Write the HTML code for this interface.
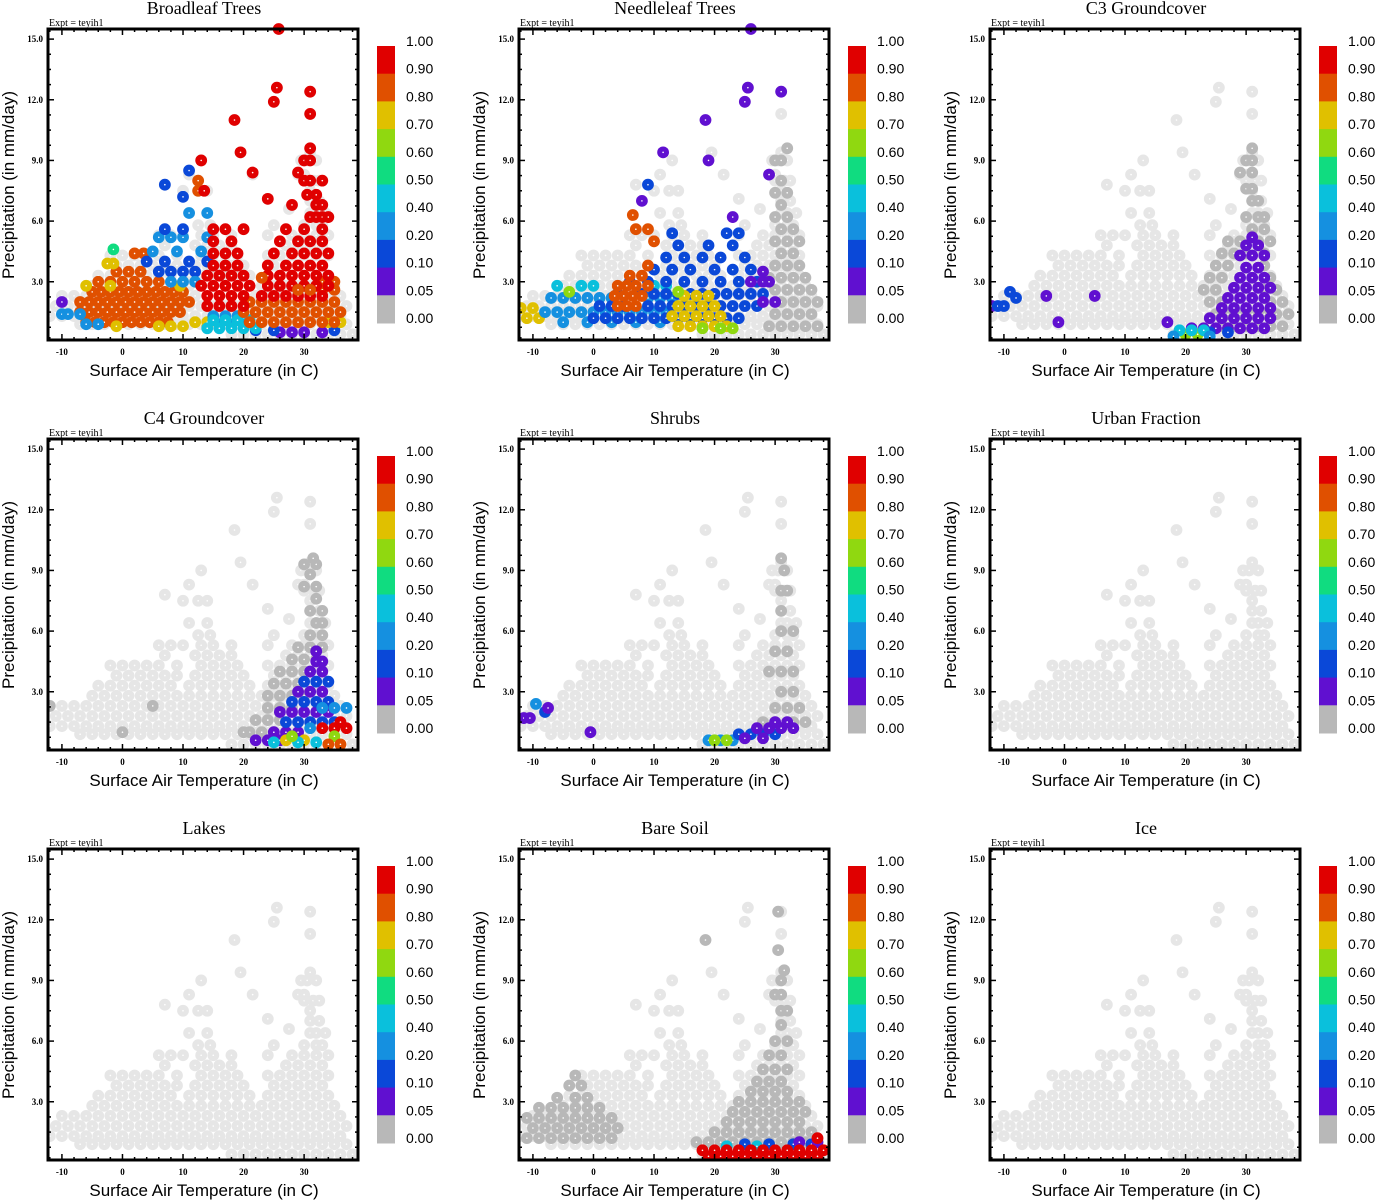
<!DOCTYPE html>
<html><head><meta charset="utf-8">
<style>
html,body{margin:0;padding:0;background:#fff;}
svg{display:block;}
</style></head>
<body>
<svg id="chart" width="1375" height="1200" viewBox="0 0 1375 1200" xmlns="http://www.w3.org/2000/svg"></svg>
<script>
// ---- data ----
const panelTitles = ["Broadleaf Trees","Needleleaf Trees","C3 Groundcover","C4 Groundcover","Shrubs","Urban Fraction","Lakes","Bare Soil","Ice"];
const colorbarLabels = ["1.00","0.90","0.80","0.70","0.60","0.50","0.40","0.20","0.10","0.05","0.00"];
const binEdges = [0.05,0.1,0.2,0.4,0.5,0.6,0.7,0.8,0.9];
const binColors = ["#b8b8b8","#6010d0","#0a48d8","#1590e0","#0ac0dc","#10dc80","#90d810","#e0c000","#e05000","#e00000"];
const xTicks = [-10,0,10,20,30];
const yTicks = [3,6,9,12,15];
// base cloud rows: [precip, temp...]
const baseRows = [
[0.4,18,20,22,24,26,28,30,32,34,36,38],
[0.9,-7,-5,-3,-1,1,3,5,7,9,11,13,15,17,19,21,23,25,27,29,31,33,35,37],
[1.3,-12,-10,-8,-6,-4,-2,0,2,4,6,8,10,12,14,16,18,20,22,24,26,28,30,32,34,36],
[1.8,-11,-9,-7,-5,-3,-1,1,3,5,7,9,11,13,15,17,19,21,23,25,27,29,31,33,35,37],
[2.3,-10,-8,-6,-4,-2,0,2,4,6,8,10,12,14,16,18,20,22,24,26,28,30,32,34,36],
[2.8,-5,-3,-1,1,3,5,7,9,11,13,15,17,19,21,23,25,27,29,31,33,35],
[3.3,-4,-2,0,2,4,6,8,11,13,15,17,19,21,24,26,28,30,32,34],
[3.8,-1,1,3,5,7,9,12,14,16,18,20,25,27,29,31,33],
[4.3,-2,0,2,4,6,9,13,15,17,19,24,26,28,30,32,34],
[4.8,7,12,14,16,18,27,29,31,33],
[5.3,6,8,10,13,15,18,24,28,30,32,34],
[5.8,12.5,14.5,25,30,32,33],
[6.4,11,14,31,32,33.5],
[7.0,31,32.5],[7.5,10,12.5,14,31],[8.0,30,31.5,32.5],[8.3,11,21.5,29,30],
[9.0,13,29.5,30.5,32],[9.4,19.5,31],[11.0,18.5],[11.3,31],[11.9,25],[12.6,25.5],[12.4,31],[7.8,7],[7.1,24],[6.6,27.5]
];
// colored rows: [precip, fraction, temp...]
const broadleafRows = [
[0.5,0.07,26,28,30,33],[0.6,0.15,22,25,35],
[1.0,0.85,-6,-4.5,-3,-1.5,0,1.5,3,4.5,6,7.5],
[1.5,0.85,-7,-5.5,-4,-2.5,-1,0.5,2,3.5,5,6.5,8,9.5],
[2.0,0.85,-7,-5.5,-4,-2.5,-1,0.5,2,3.5,5,6.5,8,9.5,11],
[2.5,0.85,-5,-3.5,-2,-0.5,1,2.5,4,5.5,7,8.5,10],
[3.0,0.85,-4,-2,0,2,4,6],[3.5,0.85,-1,1,3],[4.4,0.85,2,3.5],
[2.8,0.75,-6,-2,9.5],[0.8,0.75,-1,6,8,10,14],[3.9,0.75,-1.5,-2.5],[1.0,0.75,12,14,34,36],
[1.4,0.3,-10,-9,-7],[0.9,0.3,-6,-4],[1.3,0.3,15,17,19],[0.9,0.3,16,18,20],
[0.7,0.45,14,16,18,20,22],[1.1,0.45,15,17,19,21],[4.6,0.55,-1.5],
[3.5,0.15,6,8,10,12],[4.0,0.15,4,7,11,14],[4.5,0.3,5,9,13],[5.2,0.3,6,8,10,14],[5.6,0.15,7,10],[6.4,0.3,11,14],[7.2,0.15,10],[7.8,0.15,7],[8.5,0.15,11],[3.0,0.3,8,10,12],[2.0,0.07,-10],
[1.0,0.85,21,23,25,27,29,31,33,35],[1.5,0.85,20,22,24,26,28,30,32,34,36],[2.0,0.85,21,23,25,27,29,31,33,35],[2.6,0.85,31,33,35],[3.0,0.85,33,35],
[1.8,0.95,14,16,18,20],[2.3,0.95,14,16,18,20,23,25,27,29,31,33],[2.8,0.95,13,15,17,19,21,24,26,28,30,32,34],
[3.3,0.95,14,16,18,20,24,26,28,30,32,34],[3.8,0.95,15,17,19,24,27,29,31,33],[4.4,0.95,15,17,19,25,28,30,32,34],
[5.0,0.95,15,18,26,29,31,33],[5.6,0.95,15,17,20,27,30,33],[6.2,0.95,31,32,33,34],[6.8,0.95,28,32,33],[7.3,0.95,30.5,32],
[8.0,0.95,30,31,33],[8.4,0.95,21.5,29],[9.0,0.95,13,30,31],[9.6,0.95,31],[11.0,0.95,18.5],[11.9,0.95,25],[12.6,0.95,25.5],
[12.4,0.95,31],[11.3,0.95,31],[9.4,0.95,19.5],[7.1,0.95,24],[15.5,0.95,25.8],[7.5,0.85,12.5],[8.0,0.85,12.5],[7.5,0.95,13.5],
[2.6,0.85,29,31],[3.2,0.85,23]
];
const needleleafRows = [
[0.8,0,29,31,33,35,37],[1.4,0,30,32,34,36],[2.0,0,31,33,35,37],[2.6,0,30,32,34,36],[3.2,0,29,31,33,35],[3.8,0,30,32,34],
[4.4,0,31,33],[5.0,0,30,32,34],[5.6,0,31,33],[6.2,0,30,32],[6.8,0,31],[7.4,0,30,32],[8.0,0,31],[9.0,0,30,31],[9.6,0,32],
[1.7,0.75,-12,-10],[1.2,0.75,-11,-9],
[1.5,0.3,-8,-6,-4,-2,0,2,4,6,8,10,12],[2.2,0.3,-7,-5,-3,-1,1,3,9,11,13],[2.8,0.45,-6,-2,0,10,12],[1.0,0.3,-5,-1,3,7,11],
[1.2,0.15,0,2,4,6,8,10,12,14,16,18,20,22,24],[1.8,0.15,1,3,5,9,11,13,15,17,19,21,23,25,27],
[2.4,0.15,4,8,10,12,14,16,18,20,22,24,26,28],[3.0,0.15,6,9,12,15,18,21,24,27],[3.6,0.15,10,13,16,20,23,26],
[4.2,0.15,12,15,18,21,25],[4.8,0.15,14,19,23],[5.4,0.15,13,22,24],
[1.8,0.85,4,5.5,7],[2.3,0.85,3.5,5,6.5,8],[2.8,0.85,4,5.5,7,9],[3.3,0.85,6,8],[3.8,0.85,9],[5.0,0.85,10],[5.6,0.85,7,9],[6.3,0.85,6.5],
[0.8,0.75,14,16,18,20,22],[1.3,0.75,13,15,17,19,21],[1.8,0.75,14,16,18,20],[2.3,0.75,15,17,19],
[0.7,0.65,18,21,23],[2.5,0.65,-4,14],
[7.0,0.07,8],[7.8,0.15,9],[9.0,0.07,19],[9.4,0.07,11.5],[11,0.07,18.5],[11.9,0.07,25],[12.6,0.07,25.5],[12.4,0.07,31],
[15.5,0.07,26],[8.3,0.07,29],[3.0,0.07,26,28,29],[3.5,0.07,28],[2.0,0.07,28,30],[6.2,0.07,23]
];
const c3Rows = [
[0.8,0,26,28,30,32,34,36],[1.4,0,25,27,29,31,33,35,37],[2.0,0,24,26,34,36],[2.6,0,23,25,33,35],[3.2,0,24,26,34],
[3.8,0,25,27,33],[4.4,0,26,28,30,33],[5.0,0,27,29,32,34],[5.6,0,31,33],[6.2,0,30,32,33],[7.0,0,31,32],[7.6,0,30,31],
[8.4,0,29,31],[9.0,0,30,31],[9.6,0,31],
[0.7,0.07,21,23,25,27,29,31,33],[1.2,0.07,24,26,28,30,32,34],[1.7,0.07,26,28,30,32,34],[2.2,0.07,27,29,31,33],
[2.7,0.07,28,30,32,34],[3.2,0.07,29,31,33],[3.7,0.07,30,32],[4.3,0.07,29,31,33],[4.8,0.07,30,32],[5.2,0.07,31],
[2.3,0.07,-3,5],[1.0,0.07,-1,17],[1.8,0.07,-12],
[1.8,0.15,-11,-10],[2.2,0.15,-8],[2.5,0.15,-9],[0.5,0.15,24,27],
[0.4,0.65,20,22],[0.6,0.45,19,21,23],[0.3,0.3,18,24]
];
const c4Rows = [
[1.0,0,21,23,25],[1.6,0,22,24,26],[2.2,0,24,26,28],[2.8,0,24,26,28,30],[3.4,0,25,27,29],[4.0,0,26,28,30],
[4.6,0,28,30,32],[5.2,0,29,31,33],[5.8,0,31,33],[6.4,0,32,33],[7.0,0,31,33],[7.6,0,32],[8.2,0,30,32],[8.8,0,31],
[9.3,0,30,32],[9.6,0,31.5],[2.3,0,-12,5],[1.0,0,0,20],
[0.6,0.07,22,24,26],[1.0,0.07,25,27,29],[1.5,0.15,27,29,31,33,35],[2.0,0.07,26,28,30,32,34],[2.5,0.15,28,30,32,34],
[3.0,0.07,29,31,33],[3.5,0.15,30,32,34],[4.0,0.07,31,33],[4.5,0.07,32,33],[5.0,0.07,32],[2.2,0.3,33,35,37],[1.2,0.3,31,33],
[1.2,0.95,33,35,37],[1.5,0.95,36],[0.6,0.75,27,30],[0.5,0.45,25,29,32],[0.8,0.65,28,35],[0.4,0.85,34,36]
];
const shrubRows = [
[1.5,0,28,30,33,35],[2.2,0,30,32,34],[3.0,0,31,33],[4.0,0,29,31,33],[5.0,0,30,32],[6.0,0,31,33],[7.0,0,31],
[8.0,0,31,32],[9.0,0,31.5],[9.6,0,31],
[1.7,0.07,-11.5,-10.5],[2.4,0.3,-9.5],[2.0,0.15,-8],[2.2,0.07,-7.5],[1.0,0.07,-0.5],
[0.6,0.3,19,21,23],[0.6,0.65,20,22],[0.9,0.15,24,26,28,30],[1.2,0.07,27,29,31,33],[0.7,0.07,25,28],[1.5,0.07,30,32]
];
const urbanRows = [];
const lakeRows = [];
const bareSoilRows = [
[1.2,0,-11,-9,-7,-5,-3,-1,1,3],[1.7,0,-10,-8,-6,-4,-2,0,2,4],[2.2,0,-11,-9,-7,-5,-3,-1,1,3],[2.7,0,-9,-7,-5,-3,-1,1],
[3.2,0,-6,-3,-1],[3.8,0,-4,-2],[4.3,0,-3],
[1.0,0,17,19,21,23,25,27,29,31,33,35],[1.5,0,20,22,24,26,28,30,32,34,36],[2.0,0,22,24,26,28,30,32,34],
[2.5,0,23,25,27,29,31,33,35],[3.0,0,24,26,28,30,32,34],[3.5,0,26,28,30,32],[4.0,0,27,29,31],[4.6,0,28,30,32],
[5.3,0,29,31],[6.0,0,30,32],[6.8,0,31],[7.5,0,31,32],[8.3,0,30,31],[9.0,0,31],[9.5,0,31.5],[10.5,0,30.5],[12.4,0,30.5],[11.0,0,18.5],
[0.9,0.15,25,29,33,36],[1.0,0.07,34,37],[0.8,0.45,22,27],[1.2,0.95,37],
[0.3,0.95,19,21,23,25,27,29,31,33,35,37],[0.6,0.95,18,20,22,24,26,28,30,32,34,36,38]
];
const iceRows = [];
const panelRows = [broadleafRows,needleleafRows,c3Rows,c4Rows,shrubRows,urbanRows,lakeRows,bareSoilRows,iceRows];

// ---- drawing ----
const NS = "http://www.w3.org/2000/svg";
const svg = document.getElementById("chart");
function mk(tag, attrs, parent){ const e=document.createElementNS(NS,tag); for(const k in attrs) e.setAttribute(k,attrs[k]); parent.appendChild(e); return e; }
const PL=48, PR=358, PT=29, PB=340, XMIN=-12.3, XMAX=38.9, YMIN=0.12, YMAX=15.5;
function sx(t){ return PL + (t-XMIN)/(XMAX-XMIN)*(PR-PL); }
function sy(p){ return PB - (p-YMIN)/(YMAX-YMIN)*(PB-PT); }
function colorFor(v){ let i=0; while(i<binEdges.length && v>=binEdges[i]) i++; return binColors[i]; }
function dot(g, t, p, col){
  const c = mk("circle",{cx:sx(t),cy:sy(p),r:5.9,fill:col},g);
  
  
  mk("circle",{cx:sx(t),cy:sy(p),r:0.8,fill:"#fff"},g);
}
panelTitles.forEach((title, idx)=>{
  const ox = (idx%3)*471, oy = Math.floor(idx/3)*410;
  const g = mk("g",{transform:`translate(${ox},${oy})`},svg);
  
  
  const t = mk("text",{x:204,y:14,"text-anchor":"middle","font-family":"Liberation Serif, serif","font-size":18},g);
  t.textContent = title;
  
  
  const ex = mk("text",{x:49,y:26,"font-family":"Liberation Serif, serif","font-size":10},g);
  ex.textContent = "Expt = teyih1";
  
  
  const clip = mk("clipPath",{id:"clip"+idx},g);
  mk("rect",{x:PL,y:PT-6,width:PR-PL+6,height:PB-PT+6},clip);
  const pts = mk("g",{"clip-path":`url(#clip${idx})`},g);
  
  
  baseRows.forEach(r=>{ for(let i=1;i<r.length;i++) dot(pts, r[i], r[0], "#e6e6e6"); });
  panelRows[idx].forEach(r=>{ const col=colorFor(r[1]); for(let i=2;i<r.length;i++) dot(pts, r[i], r[0], col); });
  const fr = mk("rect",{x:PL,y:PT,width:PR-PL,height:PB-PT,fill:"none",stroke:"#000","stroke-width":3},g);
  
  
  for(let v=-12; v<=38; v+=2){
    const major = v%10===0, len = major?6:3;
    mk("line",{x1:sx(v),x2:sx(v),y1:PB,y2:PB-len,stroke:"#000","stroke-width":1.5},g);
    mk("line",{x1:sx(v),x2:sx(v),y1:PT,y2:PT+len,stroke:"#000","stroke-width":1.5},g);
  }
  xTicks.forEach(v=>{
    const tl = mk("text",{x:sx(v),y:PB+15,"text-anchor":"middle","font-family":"Liberation Serif, serif","font-size":9,"font-weight":"bold"},g);
    tl.textContent = v;
    
    
  });
  for(let v=0.75; v<=15.4; v+=0.75){
    const major = Math.abs(v/3-Math.round(v/3))<1e-6, len = major?6:3;
    mk("line",{x1:PL,x2:PL+len,y1:sy(v),y2:sy(v),stroke:"#000","stroke-width":1.5},g);
    mk("line",{x1:PR,x2:PR-len,y1:sy(v),y2:sy(v),stroke:"#000","stroke-width":1.5},g);
  }
  yTicks.forEach(v=>{
    const tl = mk("text",{x:43,y:sy(v)+3,"text-anchor":"end","font-family":"Liberation Serif, serif","font-size":9,"font-weight":"bold"},g);
    tl.textContent = v.toFixed(1);
    
    
  });
  const xt = mk("text",{x:204,y:376,"text-anchor":"middle","font-family":"Liberation Sans, sans-serif","font-size":17},g);
  xt.textContent = "Surface Air Temperature (in C)";
  
  
  const yt = mk("text",{x:0,y:0,transform:"translate(14,185) rotate(-90)","text-anchor":"middle","font-family":"Liberation Sans, sans-serif","font-size":17},g);
  yt.textContent = "Precipitation (in mm/day)";
  
  
  const cb = mk("g",{},g);
  
  
  const bh = (323-46)/10;
  for(let i=0;i<10;i++){
    mk("rect",{x:377,y:46+i*bh,width:18,height:bh+0.5,fill:binColors[9-i]},cb);
  }
  colorbarLabels.forEach((lab,i)=>{
    const tl = mk("text",{x:406,y:46+i*bh,"font-family":"Liberation Sans, sans-serif","font-size":14},cb);
    tl.textContent = lab;
    
    
  });
});
</script>
</body></html>
